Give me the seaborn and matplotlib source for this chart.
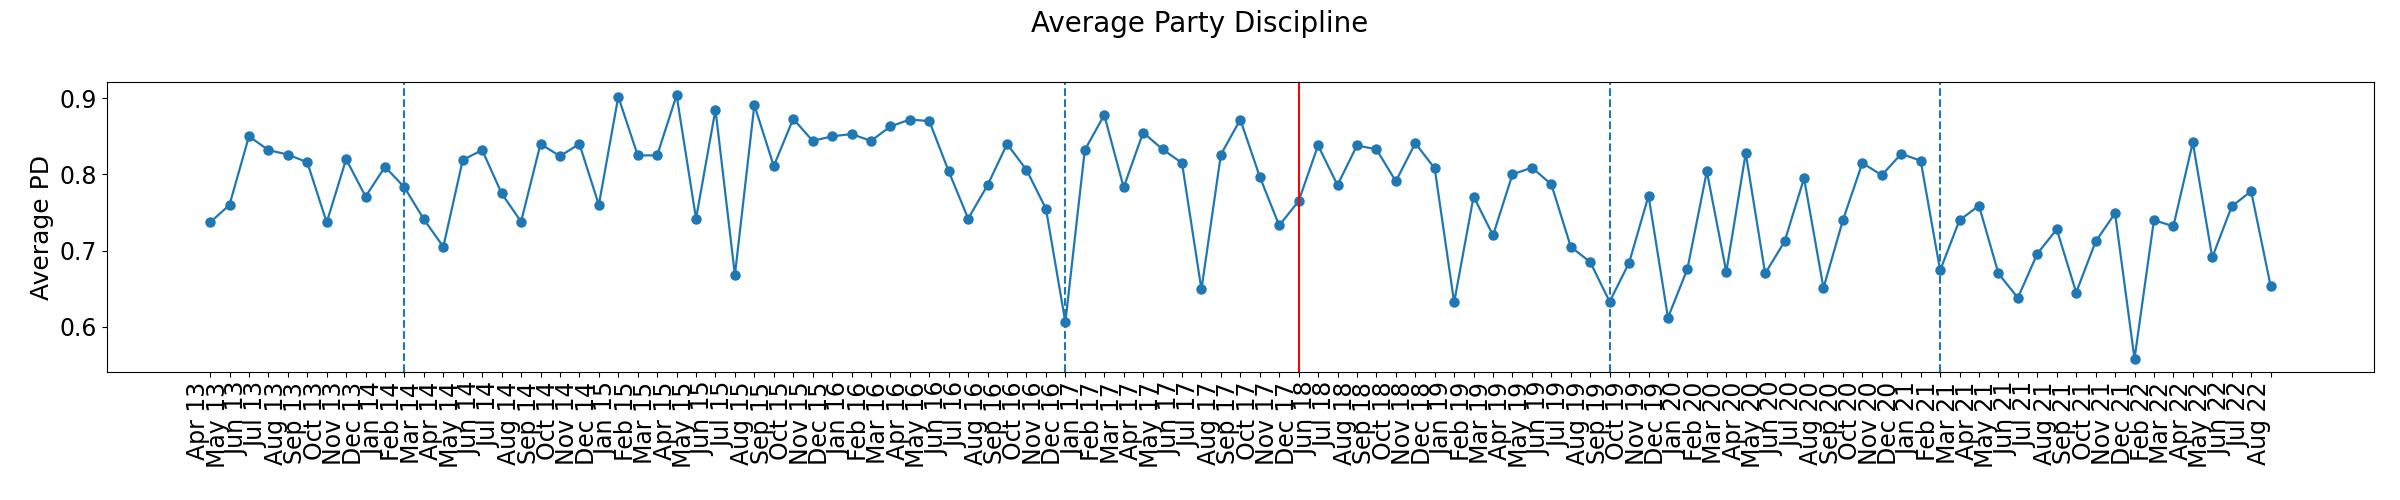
import matplotlib
matplotlib.use("Agg")
import matplotlib.pyplot as plt
import seaborn as sns
import pandas as pd

months = [
    "Apr 13", "May 13", "Jun 13", "Jul 13", "Aug 13", "Sep 13", "Oct 13", "Nov 13", "Dec 13",
    "Jan 14", "Feb 14", "Mar 14", "Apr 14", "May 14", "Jun 14", "Jul 14", "Aug 14", "Sep 14",
    "Oct 14", "Nov 14", "Dec 14",
    "Jan 15", "Feb 15", "Mar 15", "Apr 15", "May 15", "Jun 15", "Jul 15", "Aug 15", "Sep 15",
    "Oct 15", "Nov 15", "Dec 15",
    "Jan 16", "Feb 16", "Mar 16", "Apr 16", "May 16", "Jun 16", "Jul 16", "Aug 16", "Sep 16",
    "Oct 16", "Nov 16", "Dec 16",
    "Jan 17", "Feb 17", "Mar 17", "Apr 17", "May 17", "Jun 17", "Jul 17", "Aug 17", "Sep 17",
    "Oct 17", "Nov 17", "Dec 17",
    "Jun 18", "Jul 18", "Aug 18", "Sep 18", "Oct 18", "Nov 18", "Dec 18",
    "Jan 19", "Feb 19", "Mar 19", "Apr 19", "May 19", "Jun 19", "Jul 19", "Aug 19", "Sep 19",
    "Oct 19", "Nov 19", "Dec 19",
    "Jan 20", "Feb 20", "Mar 20", "Apr 20", "May 20", "Jun 20", "Jul 20", "Aug 20", "Sep 20",
    "Oct 20", "Nov 20", "Dec 20",
    "Jan 21", "Feb 21", "Mar 21", "Apr 21", "May 21", "Jun 21", "Jul 21", "Aug 21", "Sep 21",
    "Oct 21", "Nov 21", "Dec 21",
    "Feb 22", "Mar 22", "Apr 22", "May 22", "Jun 22", "Jul 22", "Aug 22",
]

avg_pd = [
    0.737, 0.760, 0.850, 0.832, 0.826, 0.816, 0.737, 0.820, 0.771,
    0.810, 0.783, 0.741, 0.705, 0.819, 0.832, 0.775, 0.738, 0.840,
    0.824, 0.840, 0.760,
    0.902, 0.825, 0.825, 0.904, 0.742, 0.885, 0.668, 0.891, 0.811,
    0.873, 0.844, 0.850,
    0.853, 0.844, 0.863, 0.872, 0.870, 0.804, 0.742, 0.786, 0.840,
    0.806, 0.755, 0.606,
    0.832, 0.878, 0.783, 0.855, 0.833, 0.815, 0.649, 0.826, 0.872,
    0.797, 0.733, 0.765,
    0.838, 0.786, 0.838, 0.833, 0.791, 0.841, 0.808,
    0.632, 0.771, 0.720, 0.800, 0.809, 0.787, 0.705, 0.685, 0.633,
    0.684, 0.772, 0.612,
    0.676, 0.804, 0.672, 0.828, 0.670, 0.712, 0.795, 0.651, 0.740,
    0.815, 0.799, 0.827,
    0.818, 0.674, 0.740, 0.759, 0.670, 0.638, 0.696, 0.728, 0.645,
    0.712, 0.749, 0.558,
    0.740, 0.732, 0.842, 0.691, 0.758, 0.778, 0.654,
]

dashed_events = ["Feb 14", "Dec 16", "Sep 19", "Feb 21"]
red_event = "Dec 17"

df = pd.DataFrame({"pos": list(range(len(months))), "month": months, "pd": avg_pd})

fig = plt.figure(figsize=(24, 5), dpi=100)
ax = fig.add_axes([0.0446, 0.256, 0.989 - 0.0446, 0.836 - 0.256])

sns.lineplot(data=df, x="pos", y="pd", ax=ax, marker="o", color="C0",
             markersize=6.5, markeredgecolor="C0", markeredgewidth=1.0, linewidth=1.6)

for ev in dashed_events:
    ax.axvline(months.index(ev), color="C0", linestyle="--", linewidth=1.5)
ax.axvline(months.index(red_event), color="red", linewidth=1.5)

ax.set_xticks(df["pos"])
ax.set_xticklabels(df["month"], rotation=90, ha="right", fontsize=17)
ax.tick_params(axis="y", labelsize=17)
ax.set_xlabel("")
ax.set_ylabel("Average PD", fontsize=18)
ax.margins(x=0.05, y=0.05)

fig.suptitle("Average Party Discipline", fontsize=20)

fig.savefig("out.png", dpi=100)
